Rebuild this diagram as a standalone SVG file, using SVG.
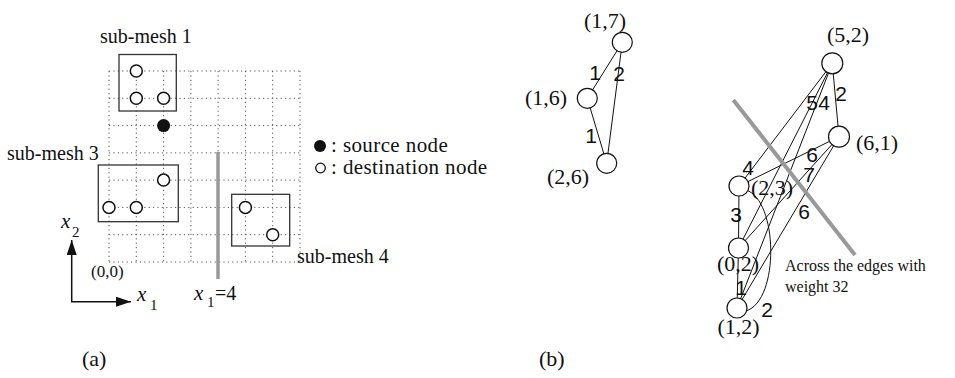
<svg xmlns="http://www.w3.org/2000/svg" width="955" height="378" viewBox="0 0 955 378">
<style>
.serif{font-family:"Liberation Serif","Times New Roman",serif;fill:#111}
.sans{font-family:"Liberation Sans",Arial,sans-serif;fill:#111;text-anchor:middle}
.grid{stroke:#555;stroke-width:1;stroke-dasharray:1.2 3.2;fill:none}
.box{fill:none;stroke:#333;stroke-width:1.3}
.dst{fill:#fff;stroke:#111;stroke-width:1.5}
.src{fill:#111}
.node{fill:#fff;stroke:#111;stroke-width:1.2}
.edge{stroke:#111;stroke-width:1;fill:none}
.cut{stroke:#999;stroke-width:4;fill:none}
.lbl{font-size:22px}
.w{font-size:21px}
</style>
<defs>
<marker id="ah" markerWidth="15" markerHeight="10" refX="15" refY="5" orient="auto" markerUnits="userSpaceOnUse">
<path d="M0,0 L15,5 L0,10 z" fill="#111"/>
</marker>
</defs>

<!-- Panel (a) -->
<g id="grid">
<path class="grid" d="M109,71V262M136.3,71V262M163.6,71V262M190.9,71V262M218.1,71V262M245.4,71V262M272.7,71V262M300,71V262"/>
<path class="grid" d="M109,71H300M109,98.3H300M109,125.6H300M109,152.9H300M109,180.1H300M109,207.4H300M109,234.7H300M109,262H300"/>
</g>
<line id="cut-a" x1="218" y1="152" x2="218" y2="279" stroke="#999" stroke-width="3.5"/>
<g id="submesh1">
<rect class="box" x="119" y="54.5" width="57.3" height="56.5"/>
<circle class="dst" cx="136.3" cy="71" r="6"/>
<circle class="dst" cx="136.3" cy="98.3" r="6"/>
<circle class="dst" cx="163.6" cy="98.3" r="6"/>
<text class="serif" x="100" y="43" font-size="20">sub-mesh 1</text>
</g>
<g id="source">
<circle class="src" cx="163.6" cy="125.6" r="6.5"/>
</g>
<g id="submesh3">
<rect class="box" x="98.3" y="165" width="80" height="56.7"/>
<circle class="dst" cx="163.6" cy="180.1" r="6"/>
<circle class="dst" cx="109" cy="207.4" r="6"/>
<circle class="dst" cx="136.3" cy="207.4" r="6"/>
<text class="serif" x="7" y="160" font-size="20">sub-mesh 3</text>
</g>
<g id="submesh4">
<rect class="box" x="231.7" y="194.3" width="58" height="51.7"/>
<circle class="dst" cx="245.4" cy="207.4" r="6"/>
<circle class="dst" cx="272.7" cy="234.7" r="6"/>
<text class="serif" x="297" y="263" font-size="20">sub-mesh 4</text>
</g>
<g id="legend">
<circle class="src" cx="320" cy="146" r="6"/>
<text class="serif" x="331" y="152" font-size="21" letter-spacing="0.4">: source node</text>
<circle fill="#fff" stroke="#111" stroke-width="1.3" cx="320.5" cy="168" r="4.8"/>
<text class="serif" x="331" y="174" font-size="21" letter-spacing="0.4">: destination node</text>
</g>
<g id="axes">
<line x1="71.7" y1="301.7" x2="71.7" y2="240" stroke="#111" stroke-width="1.5" marker-end="url(#ah)"/>
<line x1="71" y1="301.7" x2="131" y2="301.7" stroke="#111" stroke-width="1.5" marker-end="url(#ah)"/>
<text class="serif" x="61" y="228" font-size="21" font-style="italic">x</text>
<text class="serif" x="72" y="237" font-size="15">2</text>
<text class="serif" x="137" y="301" font-size="21" font-style="italic">x</text>
<text class="serif" x="150" y="310" font-size="15">1</text>
<text class="serif" x="91" y="277" font-size="17">(0,0)</text>
<text class="serif" x="194" y="300" font-size="21" font-style="italic">x</text>
<text class="serif" x="207" y="307" font-size="15">1</text>
<text class="serif" x="215" y="300" font-size="20">=4</text>
</g>
<text class="serif" x="82" y="366" font-size="22">(a)</text>

<!-- Panel (b) -->
<g id="connectors">
<line class="edge" x1="622.3" y1="42.3" x2="587.3" y2="98.3"/>
<line class="edge" x1="622.3" y1="42.3" x2="606.7" y2="163.3"/>
<line class="edge" x1="587.3" y1="98.3" x2="606.7" y2="163.3"/>
<line class="edge" x1="832.3" y1="63.3" x2="839" y2="136.7"/>
<line class="edge" x1="832.3" y1="63.3" x2="739" y2="186"/>
<line class="edge" x1="832.3" y1="63.3" x2="738.5" y2="248"/>
<line class="edge" x1="832.3" y1="63.3" x2="737" y2="308"/>
<line class="edge" x1="839" y1="136.7" x2="739" y2="186"/>
<line class="edge" x1="839" y1="136.7" x2="738.5" y2="248"/>
<line class="edge" x1="839" y1="136.7" x2="737" y2="308"/>
<line class="edge" x1="739" y1="186" x2="738.5" y2="248"/>
<line class="edge" x1="738.5" y1="248" x2="737" y2="308"/>
<path class="edge" d="M746,190 C778,200 780,300 746,311"/>
<line class="cut" x1="733.3" y1="100" x2="855" y2="255"/>
</g>
<g id="edge-labels">
<text class="sans w" x="595" y="80">1</text>
<text class="sans w" x="619" y="81">2</text>
<text class="sans w" x="591" y="143">1</text>
<text class="sans w" x="748" y="175">4</text>
<text class="sans w" x="812" y="110">5</text>
<text class="sans w" x="824" y="110">4</text>
<text class="sans w" x="841" y="101">2</text>
<text class="sans w" x="812" y="162">6</text>
<text class="sans w" x="809" y="182">7</text>
<text class="sans w" x="736" y="222">3</text>
<text class="sans w" x="804" y="219">6</text>
<text class="sans w" x="741" y="295">1</text>
<text class="sans w" x="767" y="317">2</text>
</g>
<g id="n17"><circle class="node" cx="622.3" cy="42.3" r="10"/><text class="serif lbl" x="584" y="28">(1,7)</text></g>
<g id="n16"><circle class="node" cx="587.3" cy="98.3" r="10"/><text class="serif lbl" x="525" y="105">(1,6)</text></g>
<g id="n26"><circle class="node" cx="606.7" cy="163.3" r="10"/><text class="serif lbl" x="547" y="184">(2,6)</text></g>
<g id="n52"><circle class="node" cx="832.3" cy="63.3" r="10.5"/><text class="serif lbl" x="827" y="42">(5,2)</text></g>
<g id="n61"><circle class="node" cx="839" cy="136.7" r="10.5"/><text class="serif lbl" x="856" y="150">(6,1)</text></g>
<g id="n23"><circle class="node" cx="739" cy="186" r="10"/><text class="serif lbl" x="751" y="195">(2,3)</text></g>
<g id="n02"><circle class="node" cx="738.5" cy="248" r="10"/><text class="serif lbl" x="717" y="271">(0,2)</text></g>
<g id="n12"><circle class="node" cx="737" cy="308" r="10"/><text class="serif lbl" x="717.5" y="334">(1,2)</text></g>
<g id="note">
<text class="serif" x="785" y="271" font-size="16">Across the edges with</text>
<text class="serif" x="785" y="292" font-size="16">weight 32</text>
</g>
<text class="serif" x="539" y="366" font-size="22">(b)</text>
</svg>
